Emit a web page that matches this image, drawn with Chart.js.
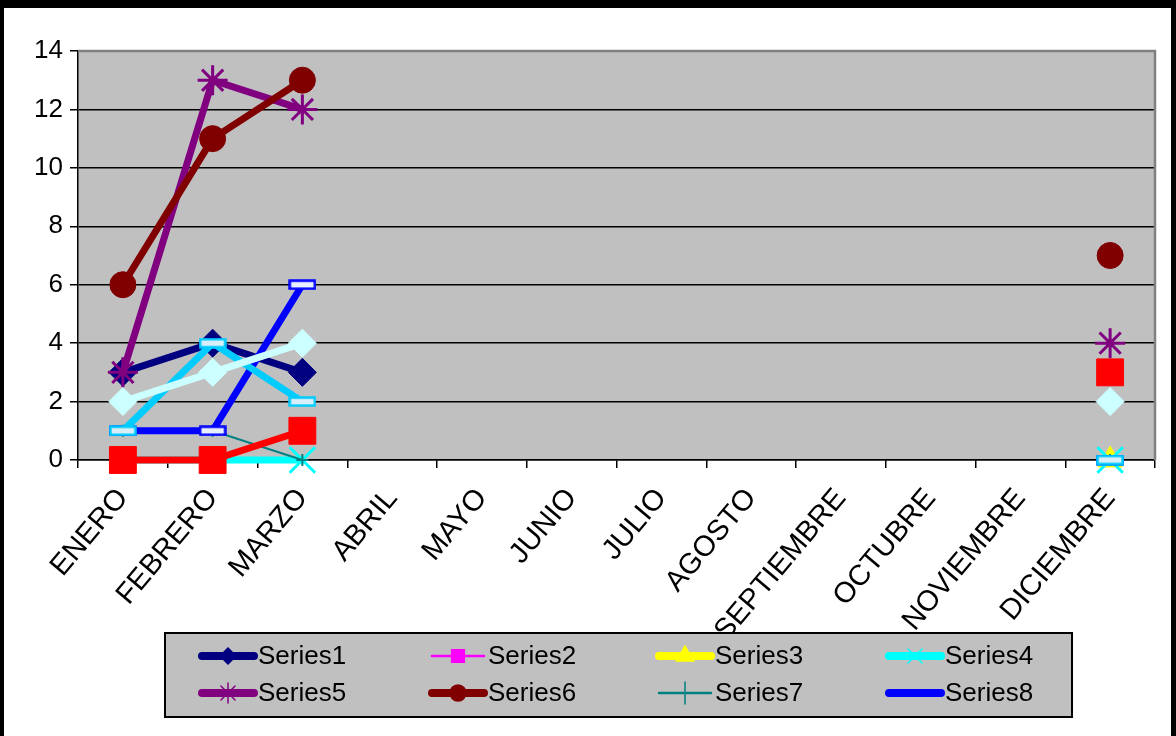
<!DOCTYPE html>
<html><head><meta charset="utf-8">
<script src="https://cdn.jsdelivr.net/npm/chart.js@4.4.1/dist/chart.umd.min.js"></script>
<style>html,body{margin:0;padding:0;background:#fff;}canvas{display:block}</style>
</head><body>
<canvas id="c" width="1176" height="736"></canvas>
<script>
const categories = ['ENERO','FEBRERO','MARZO','ABRIL','MAYO','JUNIO','JULIO','AGOSTO','SEPTIEMBRE','OCTUBRE','NOVIEMBRE','DICIEMBRE'];
const yTicks = [0,2,4,6,8,10,12,14];
const series1  = [3,4,3,null,null,null,null,null,null,null,null,null];
const series2  = [0,0,null,null,null,null,null,null,null,null,null,0];
const series3  = [null,null,null,null,null,null,null,null,null,null,null,0];
const series4  = [0,0,0,null,null,null,null,null,null,null,null,0];
const series5  = [3,13,12,null,null,null,null,null,null,null,null,4];
const series6  = [6,11,13,null,null,null,null,null,null,null,null,7];
const series7  = [1,1,0,null,null,null,null,null,null,null,null,0];
const series8  = [1,1,6,null,null,null,null,null,null,null,null,0];
const series9  = [1,4,2,null,null,null,null,null,null,null,null,0];
const series10 = [2,3,4,null,null,null,null,null,null,null,null,2];
const series11 = [0,0,1,null,null,null,null,null,null,null,null,3];

const FONT = '"Liberation Sans", Arial, sans-serif';

function dashMarker(stroke, fill){
  const cv = document.createElement('canvas');
  cv.width = 28; cv.height = 11;
  const g = cv.getContext('2d');
  g.fillStyle = fill; g.fillRect(1.5,1.5,25,8);
  g.strokeStyle = stroke; g.lineWidth = 2.5; g.strokeRect(1.5,1.5,25,8);
  return cv;
}

const defs = [
  {label:'Series1', data:series1, color:'#000080', w:7, ps:'rectRot', r:14, bw:1, lp:{ps:'rectRot', r:8}},
  {label:'Series2', data:series2, color:'#FF00FF', w:2, ps:'rect', r:9, bw:1, lp:{ps:'rect', r:9}},
  {label:'Series3', data:series3, color:'#FFFF00', w:7, ps:'triangle', r:14, bw:1, lp:{ps:'triangle', r:10}},
  {label:'Series4', data:series4, color:'#00FFFF', w:7, ps:'crossRot', r:18, bw:3, lp:{ps:'crossRot', r:10}},
  {label:'Series5', data:series5, color:'#800080', w:7, ps:'star', r:15, bw:3, lp:{ps:'star', r:10}},
  {label:'Series6', data:series6, color:'#800000', w:7, ps:'circle', r:13, bw:1, lp:{ps:'circle', r:8}},
  {label:'Series7', data:series7, color:'#008080', w:2, ps:'cross', r:6, bw:2, lp:{ps:'cross', r:11}},
  {label:'Series8', data:series8, color:'#0000FF', w:7, ps:dashMarker('#0000FF','#E8F0FF'), r:13, bw:1, lp:null},
  {label:'Series9', data:series9, color:'#00CCFF', w:7, ps:dashMarker('#00CCFF','#D8EEF8'), r:13, bw:1, lp:null},
  {label:'Series10', data:series10, color:'#CCFFFF', w:7, ps:'rectRot', r:14, bw:1, lp:null},
  {label:'Series11', data:series11, color:'#FF0000', w:7, ps:'rect', r:19, bw:1, lp:null}
];

const datasets = defs.map((d,i)=>({
  label:d.label, data:d.data,
  borderColor:d.color, backgroundColor:d.color,
  borderWidth:d.w, borderJoinStyle:'round', borderCapStyle:'round',
  pointStyle:d.ps, pointRadius:d.r, pointBorderWidth:d.bw,
  pointBorderColor:d.color, pointBackgroundColor:d.color,
  pointHoverRadius:d.r, tension:0, spanGaps:false, order:-i, clip:false,
  legendPoint:d.lp
}));

const frame = {
  id:'frame',
  beforeDraw(chart){
    const {ctx, chartArea:a} = chart;
    ctx.save();
    ctx.fillStyle = '#fff';
    ctx.fillRect(0,0,chart.width,chart.height);
    ctx.fillStyle = '#C0C0C0';
    ctx.fillRect(a.left, a.top, a.right-a.left, a.bottom-a.top);
    ctx.restore();
  },
  beforeDatasetsDraw(chart){
    const {ctx, chartArea:a} = chart;
    ctx.save();
    ctx.strokeStyle = '#808080'; ctx.lineWidth = 2.5;
    ctx.beginPath();
    ctx.moveTo(a.left, a.top); ctx.lineTo(a.right, a.top); ctx.lineTo(a.right, a.bottom);
    ctx.stroke();
    ctx.restore();
  },
  afterDraw(chart){
    const ctx = chart.ctx;
    ctx.save();
    const bx=165, by=633, bw=907, bh=84;
    ctx.fillStyle = '#C0C0C0'; ctx.fillRect(bx,by,bw,bh);
    ctx.strokeStyle = '#000'; ctx.lineWidth = 2; ctx.strokeRect(bx,by,bw,bh);
    const cols=[198,428,655,885], rows=[656,693];
    chart.data.datasets.slice(0,8).forEach((ds,i)=>{
      const x0 = cols[i%4], y0 = rows[Math.floor(i/4)];
      ctx.strokeStyle = ds.borderColor;
      ctx.lineWidth = ds.borderWidth>3 ? 8 : 2.5;
      ctx.lineCap = 'round';
      ctx.beginPath(); ctx.moveTo(x0+4,y0); ctx.lineTo(x0+56,y0); ctx.stroke();
      const lp = ds.legendPoint;
      if (lp && Chart.helpers && Chart.helpers.drawPoint){
        ctx.fillStyle = ds.borderColor;
        ctx.lineWidth = 1.5;
        Chart.helpers.drawPoint(ctx,{pointStyle:lp.ps, radius:lp.r, rotation:0, borderWidth:1.5}, x0+30, y0);
      }
      ctx.fillStyle = '#000';
      ctx.font = '26px ' + FONT;
      ctx.textBaseline = 'middle'; ctx.textAlign = 'left';
      ctx.fillText(ds.label, x0+60, y0+1);
    });
    ctx.fillStyle = '#000';
    ctx.fillRect(0,0,chart.width,8);
    ctx.fillRect(0,0,4,chart.height);
    ctx.fillRect(chart.width-5,0,5,chart.height);
    ctx.restore();
  }
};

new Chart(document.getElementById('c'), {
  type:'line',
  data:{labels:categories, datasets},
  plugins:[frame],
  options:{
    responsive:false, animation:false, devicePixelRatio:1,
    layout:{padding:{top:51,right:19,left:0,bottom:0}},
    plugins:{legend:{display:false}, tooltip:{enabled:false}},
    scales:{
      x:{
        type:'category', offset:true,
        grid:{offset:true, drawOnChartArea:false, drawTicks:true, tickLength:8, color:'#000', lineWidth:1.5},
        border:{color:'#000', width:1.5},
        ticks:{maxRotation:50, minRotation:50, autoSkip:false, color:'#000', padding:14, font:{size:29, family:FONT}},
        afterFit(s){ s.height = 276; }
      },
      y:{
        min:0, max:14,
        afterBuildTicks(s){ s.ticks = yTicks.map(v=>({value:v})); },
        grid:{color:'#000', lineWidth:1.5, tickLength:8, drawTicks:true},
        border:{color:'#000', width:1.5},
        ticks:{color:'#000', padding:7, font:{size:26, family:FONT}},
        afterFit(s){ s.width = 78; }
      }
    }
  }
});
</script>
</body></html>
